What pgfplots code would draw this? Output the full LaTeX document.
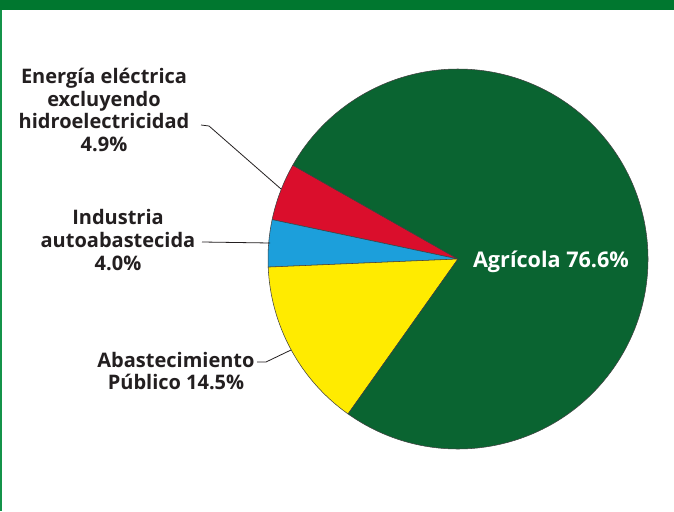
\documentclass[border=0pt]{standalone}
\usepackage{pgfplots}
\pgfplotsset{compat=1.18}
\usepackage{fontspec}
\setmainfont{Open Sans}
\definecolor{frame}{HTML}{00772F}
\definecolor{frameL}{HTML}{14934A}
\definecolor{agri}{HTML}{0A6431}
\definecolor{ered}{HTML}{DA0E2C}
\definecolor{iblue}{HTML}{1C9FDB}
\definecolor{pyel}{HTML}{FFEB00}
\definecolor{txt}{HTML}{231F20}
% shares (percent), drawn counter-clockwise starting at 150.4 degrees
\def\pRed{4.9}
\def\pBlue{4.0}
\def\pYel{14.5}
\def\pAgri{76.6}
\pgfmathsetmacro\aA{150.4}
\pgfmathsetmacro\aB{\aA+3.6*\pRed}
\pgfmathsetmacro\aC{\aB+3.6*\pBlue}
\pgfmathsetmacro\aD{\aC+3.6*\pYel}
\pgfmathsetmacro\aE{\aD+3.6*\pAgri}
\pgfmathsetmacro\R{190*0.75}
\newcommand\lab{\bfseries\fontsize{15}{17.1}\selectfont}
\newcommand\labbig{\bfseries\fontsize{16.2}{19}\selectfont}
\begin{document}
\begin{tikzpicture}
\begin{axis}[x=0.75pt,y=0.75pt,xmin=0,xmax=674,ymin=0,ymax=511,
  hide axis,clip=false]
\fill[white] (axis cs:0,0) rectangle (axis cs:674,511);
\fill[frame] (axis cs:0,501) rectangle (axis cs:674,511);
\fill[frameL] (axis cs:0,0) rectangle (axis cs:2,501);
\coordinate (C) at (axis cs:458,252);
\filldraw[fill=ered,draw=black!75,line width=0.4pt] (C) -- ++(\aA:\R pt) arc[start angle=\aA,end angle=\aB,radius=\R pt] -- cycle;
\filldraw[fill=iblue,draw=black!75,line width=0.4pt] (C) -- ++(\aB:\R pt) arc[start angle=\aB,end angle=\aC,radius=\R pt] -- cycle;
\filldraw[fill=pyel,draw=black!75,line width=0.4pt] (C) -- ++(\aC:\R pt) arc[start angle=\aC,end angle=\aD,radius=\R pt] -- cycle;
\filldraw[fill=agri,draw=black!75,line width=0.4pt] (C) -- ++(\aD:\R pt) arc[start angle=\aD,end angle=\aE,radius=\R pt] -- cycle;
% leader lines
\draw[txt,line width=0.6pt] (axis cs:201,386) -- (axis cs:209,385) -- (axis cs:281,322);
\draw[txt,line width=0.6pt] (axis cs:202,269) -- (axis cs:270,268);
\draw[txt,line width=0.6pt] (axis cs:257,149) -- (axis cs:266,149) -- (axis cs:291,161);
% labels
\node[align=center,text=txt,font=\lab,inner sep=0pt] at (axis cs:104,401) {Energía eléctrica\\excluyendo\\hidroelectricidad\\4.9\%};
\node[align=center,text=txt,font=\lab,inner sep=0pt] at (axis cs:118,271) {Industria\\autoabastecida\\4.0\%};
\node[align=center,text=txt,font=\lab,inner sep=0pt] at (axis cs:176,140) {Abastecimiento\\Público 14.5\%};
\node[text=white,font=\labbig,inner sep=0pt] at (axis cs:551,249) {Agrícola 76.6\%};
\end{axis}
\end{tikzpicture}
\end{document}
